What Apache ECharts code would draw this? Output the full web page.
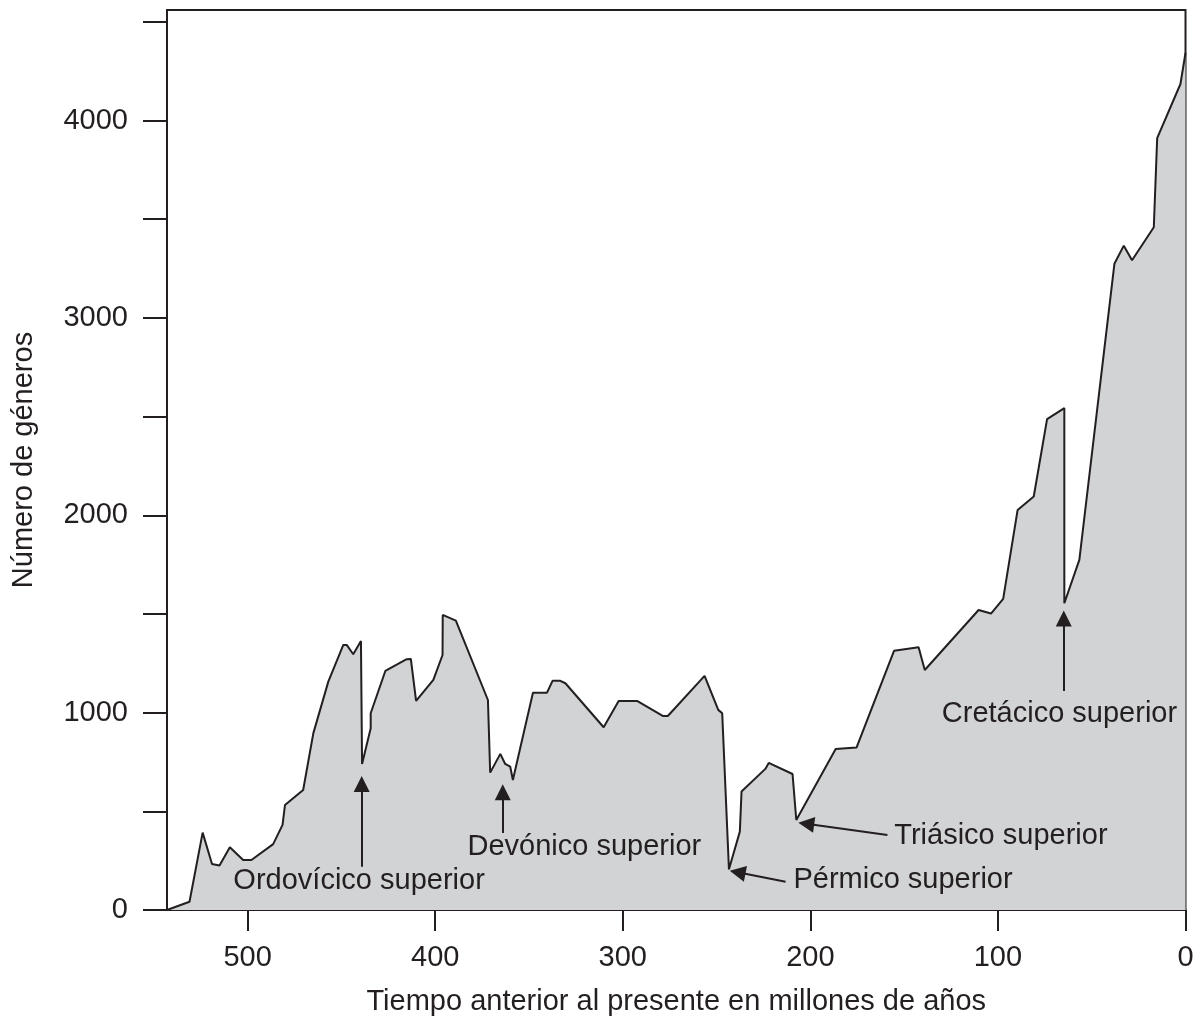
<!DOCTYPE html>
<html>
<head>
<meta charset="utf-8">
<title>Número de géneros</title>
<script src="https://cdn.jsdelivr.net/npm/echarts@6/dist/echarts.min.js"></script>
<style>
  html, body { margin: 0; padding: 0; background: #fff; }
  #chart { width: 1203px; height: 1021px; }
</style>
</head>
<body>
<div id="chart"></div>
<script>
// millones de años antes del presente
var ages = [543, 531, 524, 519, 515, 509.5, 502.4, 498, 486.4, 481.4, 480.1, 470.4, 465, 457, 449, 447.2,
  443.7, 439.6, 439, 439, 434.4, 434.4, 426.6, 415.2, 413, 410.2, 401, 396.1, 396, 389, 371.9, 370.7,
  365.3, 362.7, 360, 358.6, 347.9, 340.4, 337.4, 333.3, 330.6, 310.2, 302.2, 292.4, 278.7, 276, 256.4,
  249.1, 247, 243.4, 237.6, 236.7, 224, 222.2, 209.5, 207.5, 186.5, 175.4, 155.4, 142.3, 139, 110.3,
  103.7, 97.2, 89.5, 80.9, 73.8, 64.6, 64.6, 56.6, 37.9, 32.9, 28.5, 16.9, 15.1, 2.7, 0]
// número de géneros
var genera = [0, 42, 392, 233, 225, 318, 253, 253, 334, 431, 532, 608, 895, 1157, 1343, 1343,
  1296, 1363, 1363, 740, 921, 997, 1211, 1271, 1272, 1059, 1166, 1292, 1495, 1466, 1064, 696,
  791, 740, 726, 659, 1101, 1101, 1162, 1161, 1149, 926, 1059, 1059, 983, 983, 1186,
  1014, 997, 206, 397, 600, 715, 745, 689, 456, 816, 823, 1313, 1331, 1216, 1520,
  1502, 1576, 2027, 2095, 2487, 2543, 1554, 1774, 3274, 3366, 3292, 3459, 3911, 4185, 4342]

// extinciones: texto, posición del texto, flecha (cola -> punta)
var eventNames = ['Ordovícico superior', 'Devónico superior', 'Pérmico superior', 'Triásico superior', 'Cretácico superior']
var labelPos = [[440.6, 147], [320.5, 320], [150.6, 152], [98.4, 373], [67.2, 995]]
var arrowTail = [[439.2, 219], [364, 390], [213.2, 143], [158.9, 380], [64.9, 1110]]
var arrowHead = [[439.2, 639], [364, 597], [238.8, 191], [202.2, 437], [64.9, 1477]]

var xTicks = [0, 100, 200, 300, 400, 500]
var yTicks = [0, 500, 1000, 1500, 2000, 2500, 3000, 3500, 4000, 4500]
var yLabels = [0, 1000, 2000, 3000, 4000]

var ink = '#231f20'
var font = "'Liberation Sans', Arial, sans-serif"

var curve = ages.map(function (t, i) {
  return [t, genera[i]]
})
var arrows = arrowTail.map(function (p, i) {
  return { coords: [p, arrowHead[i]] }
})
var labels = labelPos.map(function (p, i) {
  return { value: p, name: eventNames[i] }
})

var myChart = echarts.init(document.getElementById('chart'))
var option = {
  backgroundColor: '#fff',
  animation: false,
  textStyle: { fontFamily: font, color: ink },
  grid: {
    left: 167,
    right: 17.5,
    top: 10,
    bottom: 111,
    show: true,
    borderColor: ink,
    borderWidth: 2,
    outerBoundsMode: 'none'
  },
  xAxis: {
    type: 'value',
    inverse: true,
    min: 0,
    max: 543,
    name: 'Tiempo anterior al presente en millones de años',
    nameLocation: 'middle',
    nameGap: 77,
    nameTextStyle: { fontSize: 29, color: ink, fontFamily: font },
    axisLine: { show: true, onZero: false, lineStyle: { color: ink, width: 2 } },
    axisTick: { show: true, length: 21, customValues: xTicks, lineStyle: { color: ink, width: 2 } },
    axisLabel: { customValues: xTicks, margin: 33, fontSize: 29, color: ink, fontFamily: font },
    splitLine: { show: false }
  },
  yAxis: {
    type: 'value',
    min: 0,
    max: 4560,
    name: 'Número de géneros',
    nameLocation: 'middle',
    nameGap: 129,
    nameTextStyle: { fontSize: 29, color: ink, fontFamily: font },
    axisLine: { show: true, onZero: false, lineStyle: { color: ink, width: 2 } },
    axisTick: { show: true, length: 24, customValues: yTicks, lineStyle: { color: ink, width: 2 } },
    axisLabel: {
      customValues: yLabels,
      margin: 39,
      fontSize: 29,
      color: ink,
      fontFamily: font,
      formatter: function (v) { return String(v) }
    },
    splitLine: { show: false }
  },
  series: [
    {
      type: 'line',
      data: curve,
      symbol: 'none',
      lineStyle: { color: ink, width: 2 },
      areaStyle: { color: '#d1d3d4', opacity: 1 },
      z: 2
    },
    {
      type: 'lines',
      coordinateSystem: 'cartesian2d',
      data: arrows,
      symbol: ['none', 'triangle'],
      symbolSize: 16,
      lineStyle: { color: ink, width: 2, opacity: 1 },
      itemStyle: { color: ink, opacity: 1 },
      z: 3
    },
    {
      type: 'scatter',
      data: labels,
      symbolSize: 0,
      itemStyle: { opacity: 1 },
      label: {
        show: true,
        position: 'inside',
        formatter: '{b}',
        fontSize: 29,
        color: ink,
        opacity: 1,
        fontFamily: font
      },
      z: 4
    }
  ]
}
myChart.setOption(option)
</script>
</body>
</html>
